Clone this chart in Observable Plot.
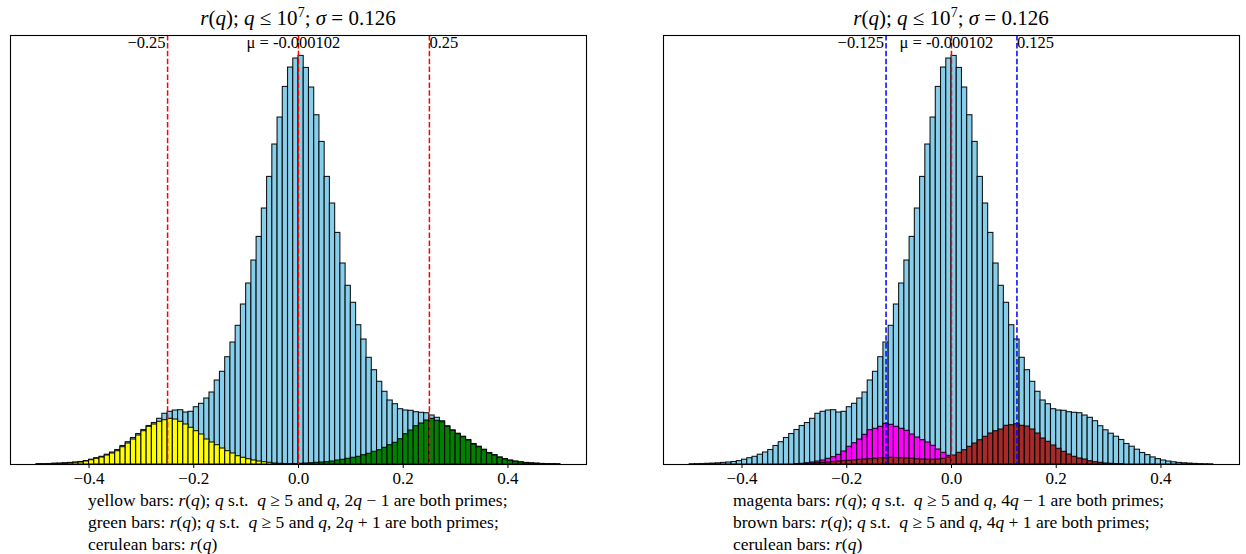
<!DOCTYPE html>
<html><head><meta charset="utf-8">
<script src="https://cdn.jsdelivr.net/npm/d3@7"></script>
<script src="https://cdn.jsdelivr.net/npm/@observablehq/plot@0.6"></script>
<style>
body{margin:0;background:#fff;}
#wrap{position:relative;width:1246px;height:554px;overflow:hidden;background:#fff;font-family:"Liberation Serif",serif;color:#000;}
.panel{position:absolute;top:0;}
.title{position:absolute;top:5px;font-size:21px;line-height:26px;white-space:nowrap;transform:translateX(-50%);}
.title sup{font-size:14px;line-height:0;}
.cap{position:absolute;top:489px;font-size:17.5px;line-height:22px;white-space:nowrap;}
</style></head>
<body><div id="wrap">
<div class="panel" id="left" style="left:0px"></div>
<div class="panel" id="right" style="left:623px"></div>
<div class="title" style="left:298px"><i>r</i>(<i>q</i>); <i>q</i> ≤ 10<sup>7</sup>; <i>σ</i> = 0.126</div>
<div class="title" style="left:951px"><i>r</i>(<i>q</i>); <i>q</i> ≤ 10<sup>7</sup>; <i>σ</i> = 0.126</div>
<div class="cap" style="left:88px">yellow bars: <i>r</i>(<i>q</i>); <i>q</i> s.t. &nbsp;<i>q</i> ≥ 5 and <i>q</i>, 2<i>q</i> − 1 are both primes;<br>green bars: <i>r</i>(<i>q</i>); <i>q</i> s.t. &nbsp;<i>q</i> ≥ 5 and <i>q</i>, 2<i>q</i> + 1 are both primes;<br>cerulean bars: <i>r</i>(<i>q</i>)</div>
<div class="cap" style="left:733px">magenta bars: <i>r</i>(<i>q</i>); <i>q</i> s.t. &nbsp;<i>q</i> ≥ 5 and <i>q</i>, 4<i>q</i> − 1 are both primes;<br>brown bars: <i>r</i>(<i>q</i>); <i>q</i> s.t. &nbsp;<i>q</i> ≥ 5 and <i>q</i>, 4<i>q</i> + 1 are both primes;<br>cerulean bars: <i>r</i>(<i>q</i>)</div>
</div>
<script>
// bin edges of r(q)
const binEdges = [-0.50,-0.49,-0.48,-0.47,-0.46,-0.45,-0.44,-0.43,-0.42,-0.41,-0.40,-0.39,-0.38,-0.37,-0.36,-0.35,-0.34,-0.33,-0.32,-0.31,-0.30,-0.29,-0.28,-0.27,-0.26,-0.25,-0.24,-0.23,-0.22,-0.21,-0.20,-0.19,-0.18,-0.17,-0.16,-0.15,-0.14,-0.13,-0.12,-0.11,-0.10,-0.09,-0.08,-0.07,-0.06,-0.05,-0.04,-0.03,-0.02,-0.01,0.00,0.01,0.02,0.03,0.04,0.05,0.06,0.07,0.08,0.09,0.10,0.11,0.12,0.13,0.14,0.15,0.16,0.17,0.18,0.19,0.20,0.21,0.22,0.23,0.24,0.25,0.26,0.27,0.28,0.29,0.30,0.31,0.32,0.33,0.34,0.35,0.36,0.37,0.38,0.39,0.40,0.41,0.42,0.43,0.44,0.45,0.46,0.47,0.48,0.49,0.50];

// counts (arbitrary units) per bin
const cerulean = [0.3,0.4,0.5,0.7,0.9,1.2,1.6,2.0,2.5,3.4,4.8,6.3,7.7,9.8,12,14.5,18.5,22.3,26.5,30.5,34.5,38.5,41.5,45.7,50.7,52.7,54,54.3,52,52.7,57.3,60.7,66,72,84,92.7,107.3,122,138.7,160,181,204,227.6,256,287.6,320,347,377.6,397,406,408.6,396.6,377,349.3,322.6,287.6,261,231.6,201,178.7,161.7,139.3,125,106.7,94.3,82.7,72.7,64,60.3,55.3,54,53.7,52.3,51.7,51.3,49,46.7,43.3,38.3,34.2,30.8,27.8,24.5,20.5,17.8,14.8,11.5,9.4,7.1,5.4,4.0,3.0,2.2,1.6,1.2,0.9,0.6,0.4,0.3,0.2];
const yellow = [0.3,0.3,0.3,0.7,0.7,1,1.3,1.7,2,3,4.3,5.7,7,9,11,13.3,17.3,21,25,29,33.3,37.7,40,42.7,44.3,45.7,45,42.7,40,36.7,33.3,30,25,22,19.3,16,13.3,11,8.3,6.7,5.3,4,3,2.3,1.7,1,0.7,0.5,0.3,0.2,0.2,0.1,0,0,0,0,0,0,0,0,0,0,0,0,0,0,0,0,0,0,0,0,0,0,0,0,0,0,0,0,0,0,0,0,0,0,0,0,0,0,0,0,0,0,0,0,0,0,0,0];
const green = [0,0,0,0,0,0,0,0,0,0,0,0,0,0,0,0,0,0,0,0,0,0,0,0,0,0,0,0,0,0,0,0,0,0,0,0,0,0,0,0,0,0,0,0,0,0,0.1,0.2,0.3,0.5,0.7,1,1.3,1.7,2,2.3,3,4,4.7,5.7,6.7,7.7,9.3,10.7,12.7,14.3,16.7,19.3,21.7,25.3,30.3,34,38.3,41,44,45.7,43.7,42.3,37.7,33.7,30.3,27.3,24,20,17.3,14.3,11,9,6.7,5,3.7,2.7,2,1.3,1,0.7,0.4,0.3,0.2,0.1];
const magenta = [0,0,0,0,0,0,0,0,0,0,0,0,0,0,0,0,0,0,0,0,0.3,0.7,1.2,2,3,4,5.7,7.3,9.7,13,17.7,21.3,25,29.7,34.3,35.7,37.7,40.7,39.7,37.7,35.7,33.7,30,27,24.3,22,18.7,15,11.7,8.7,5,2.5,1,0.4,0,0,0,0,0,0,0,0,0,0,0,0,0,0,0,0,0,0,0,0,0,0,0,0,0,0,0,0,0,0,0,0,0,0,0,0,0,0,0,0,0,0,0,0,0,0];
const brown = [0,0,0,0,0,0,0,0,0,0,0,0,0,0,0,0,0,0,0,0,0.2,0.4,0.7,1,1.3,1.7,2,2.5,3,3.3,3.7,4.2,4.7,5,5.3,5.8,6.3,6.3,6.7,6.5,6.3,6,5.7,5.3,5,4.8,4.7,5,5.7,7,9,11.7,14.3,17.7,21,24.3,27.7,31,33.3,35,38.7,39.3,40.3,38.7,38,35,31,26,22.7,19,15.7,12.7,10,7.7,6,5,3.3,2.3,1.7,1,0.7,0.4,0.2,0,0,0,0,0,0,0,0,0,0,0,0,0,0,0,0,0];

const xTicks = [-0.4, -0.2, 0.0, 0.2, 0.4];
const xDomain = [-0.55, 0.55];
const mu = -0.000102;
const muLabel = "μ = -0.000102";
const leftRules = [-0.25, 0.25];
const leftRuleLabels = ["−0.25", "0.25"];
const rightRules = [-0.125, 0.125];
const rightRuleLabels = ["−0.125", "0.125"];

const rows = cerulean.map((v, i) => ({x1: binEdges[i], x2: binEdges[i + 1], cerulean: v, yellow: yellow[i], green: green[i], magenta: magenta[i], brown: brown[i]}));
const yMax = d3.max(cerulean) * 1.05;
const fmt = d => (d < 0 ? "−" : "") + Math.abs(d).toFixed(1);

function bars(key, color) {
  return Plot.rectY(rows, {x1: "x1", x2: "x2", y: key, fill: color, stroke: "black", strokeWidth: 1.1, strokeOpacity: 0.9});
}

function panel({layers, rules, ruleLabels, ruleColor, marginLeft, marginRight}) {
  return Plot.plot({
    width: 623, height: 490, marginTop: 35, marginBottom: 26, marginLeft, marginRight,
    x: {domain: xDomain, axis: null},
    y: {domain: [0, yMax], axis: null},
    style: {fontFamily: "Liberation Serif, serif", fontSize: "17px", color: "black", background: "transparent", overflow: "visible"},
    marks: [
      bars("cerulean", "#87ceeb"),
      ...layers.map(([k, c]) => bars(k, c)),
      Plot.ruleX(rules, {stroke: ruleColor, strokeWidth: 1.5, strokeDasharray: "5.5,2.4"}),
      Plot.ruleX([mu], {stroke: "#ff0000", strokeWidth: 1.5, strokeDasharray: "5.5,2.4"}),
      Plot.frame({stroke: "black", strokeWidth: 1.1}),
      Plot.text([ruleLabels[0]], {x: rules[0], text: d => d, frameAnchor: "top", textAnchor: "end", lineAnchor: "top", dx: -2, dy: 1, fontSize: 16.5, fill: "black"}),
      Plot.text([ruleLabels[1]], {x: rules[1], text: d => d, frameAnchor: "top", textAnchor: "start", lineAnchor: "top", dx: 0, dy: 1, fontSize: 16.5, fill: "black"}),
      Plot.text([muLabel], {x: mu, text: d => d, frameAnchor: "top", textAnchor: "middle", lineAnchor: "top", dx: -5, dy: 1, fontSize: 16.5, fill: "black"}),
      Plot.axisX(xTicks, {tickSize: 4, tickPadding: 3, tickFormat: fmt, fontSize: 17, stroke: "black", fill: "black", label: null})
    ]
  });
}

document.getElementById("left").append(panel({
  layers: [["yellow", "#ffff00"], ["green", "#008000"]],
  rules: leftRules, ruleLabels: leftRuleLabels, ruleColor: "#ff0000",
  marginLeft: 10, marginRight: 37
}));
document.getElementById("right").append(panel({
  layers: [["magenta", "#ff00ff"], ["brown", "#a52a2a"]],
  rules: rightRules, ruleLabels: rightRuleLabels, ruleColor: "#0000ff",
  marginLeft: 40, marginRight: 7
}));
</script>
</body></html>
